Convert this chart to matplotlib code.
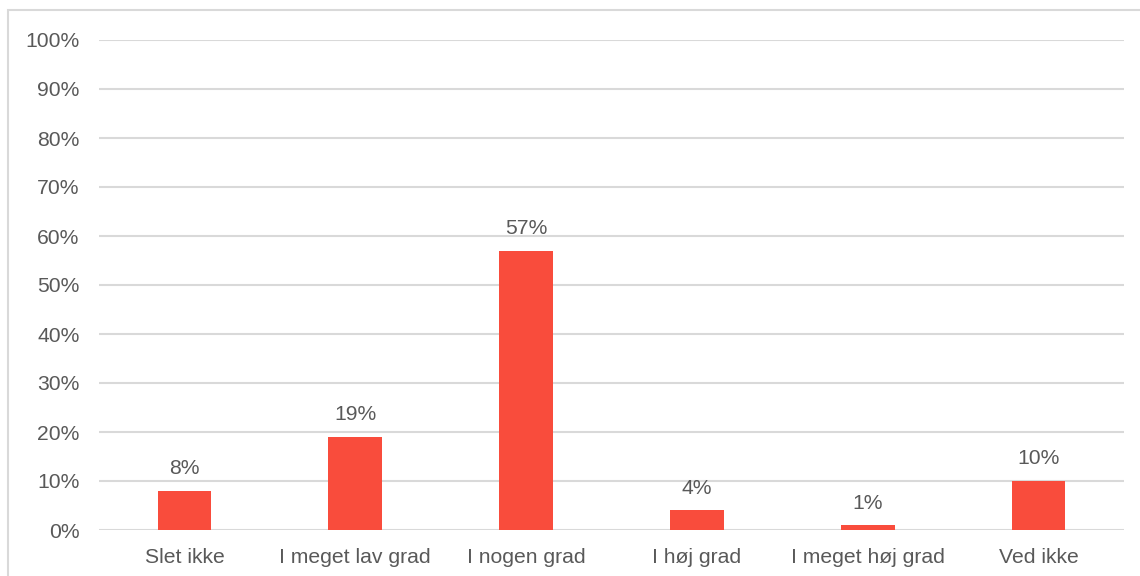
import matplotlib.pyplot as plt
from matplotlib.patches import Rectangle

categories = ['Slet ikke', 'I meget lav grad', 'I nogen grad', 'I høj grad', 'I meget høj grad', 'Ved ikke']
values = [8, 19, 57, 4, 1, 10]

plt.rcParams['font.family'] = ['Liberation Sans', 'DejaVu Sans']
text_color = '#595959'
grid_color = '#d9d9d9'
bar_color = '#f94c3c'
fs = 15.2

fig = plt.figure(figsize=(11.4, 5.76), dpi=100)
fig.patches.append(Rectangle((8 / 1140, -0.05), 1.2, 1.05 - 10 / 576,
                             transform=fig.transFigure, fill=False,
                             edgecolor=grid_color, linewidth=1.5))
ax = fig.add_axes([99 / 1140, 1 - 530 / 576, 1025 / 1140, 490 / 576])

x = range(len(categories))
ax.bar(x, values, width=0.315, color=bar_color, zorder=3)
for xi, v in zip(x, values):
    ax.annotate(f'{v}%', (xi, v), xytext=(0, 9), textcoords='offset points',
                ha='center', va='bottom', fontsize=fs, color=text_color)

ax.set_xlim(-0.5, len(categories) - 0.5)
ax.set_ylim(0, 100)
ax.set_yticks(range(0, 101, 10))
ax.set_yticklabels([f'{t}%' for t in range(0, 101, 10)])
ax.set_xticks(list(x))
ax.set_xticklabels(categories)
ax.tick_params(axis='both', length=0, labelsize=fs, colors=text_color)
ax.tick_params(axis='y', pad=14)
ax.tick_params(axis='x', pad=13)
ax.grid(axis='y', color=grid_color, linewidth=1.5, zorder=0)
for s in ax.spines.values():
    s.set_visible(False)

fig.savefig('out.png', dpi=100)
